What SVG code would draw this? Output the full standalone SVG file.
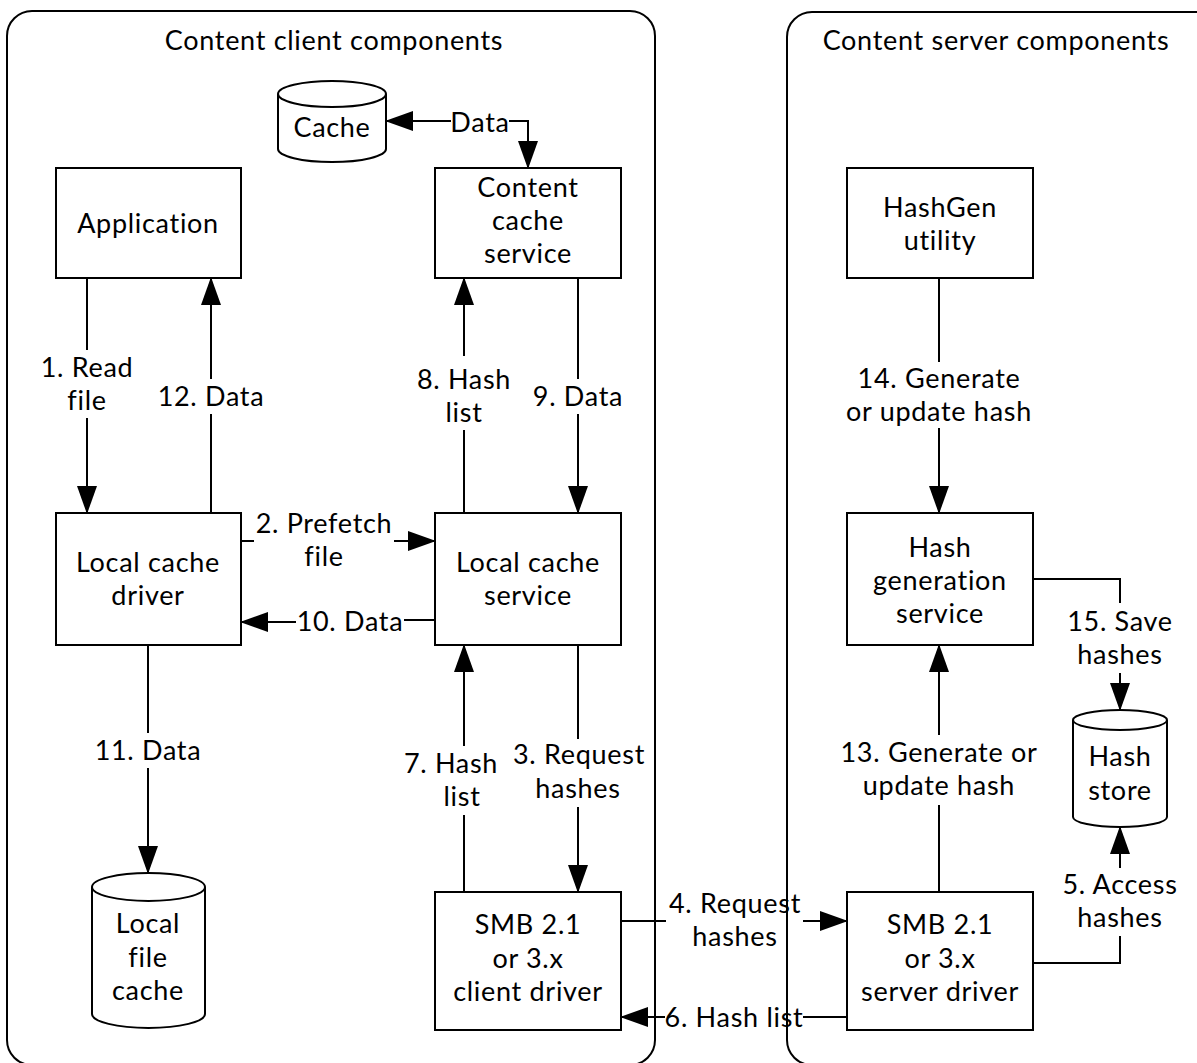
<svg xmlns="http://www.w3.org/2000/svg" width="1197" height="1063" viewBox="0 0 1197 1063">
<style>
  .t { font-family: Lato, "Open Sans", sans-serif; font-size: 27px; letter-spacing: 0.7px; font-variant-ligatures: none; text-anchor: middle; fill: #000; }
  .box { fill: #fff; stroke: #000; stroke-width: 2; }
  .cont { fill: none; stroke: #000; stroke-width: 2; }
  .ln { fill: none; stroke: #000; stroke-width: 2; }
  .arr { marker-end: url(#ah); }
</style>
<defs>
  <marker id="ah" markerUnits="userSpaceOnUse" markerWidth="28" markerHeight="20" refX="27" refY="10" orient="auto">
    <path d="M0,0 L28,10 L0,20 Z" fill="#000"/>
  </marker>
</defs>
<rect width="1197" height="1063" fill="#fff"/>

<g id="client-container">
  <rect class="cont" x="7" y="11" width="648" height="1054" rx="25" ry="25"/>
  <text class="t" x="334" y="50">Content client components</text>
</g>
<g id="server-container">
  <rect class="cont" x="787" y="12" width="450" height="1053" rx="25" ry="25"/>
  <text class="t" x="996" y="50">Content server components</text>
</g>

<g id="cache">
  <path class="box" d="M278,94 A54,13 0 0 1 386,94 V149 A54,13 0 0 1 278,149 Z"/>
  <path class="ln" d="M278,94 A54,13 0 0 0 386,94"/>
  <text class="t" x="332" y="137">Cache</text>
</g>
<g id="application">
  <rect class="box" x="56" y="168" width="185" height="110"/>
  <text class="t" x="148" y="233">Application</text>
</g>
<g id="content-cache-service">
  <rect class="box" x="435" y="168" width="186" height="110"/>
  <text class="t" x="528" y="197">Content<tspan x="528" dy="33">cache</tspan><tspan x="528" dy="33">service</tspan></text>
</g>
<g id="local-cache-driver">
  <rect class="box" x="56" y="513" width="185" height="132"/>
  <text class="t" x="148" y="572">Local cache<tspan x="148" dy="33">driver</tspan></text>
</g>
<g id="local-cache-service">
  <rect class="box" x="435" y="513" width="186" height="132"/>
  <text class="t" x="528" y="572">Local cache<tspan x="528" dy="33">service</tspan></text>
</g>
<g id="local-file-cache">
  <path class="box" d="M92,887 A56.5,14 0 0 1 205,887 V1014 A56.5,14 0 0 1 92,1014 Z"/>
  <path class="ln" d="M92,887 A56.5,14 0 0 0 205,887"/>
  <text class="t" x="148" y="933">Local<tspan x="148" dy="34">file</tspan><tspan x="148" dy="33">cache</tspan></text>
</g>
<g id="smb-client-driver">
  <rect class="box" x="435" y="892" width="186" height="138"/>
  <text class="t" x="528" y="934">SMB 2.1<tspan x="528" dy="34">or 3.x</tspan><tspan x="528" dy="33">client driver</tspan></text>
</g>
<g id="hashgen-utility">
  <rect class="box" x="847" y="168" width="186" height="110"/>
  <text class="t" x="940" y="217">HashGen<tspan x="940" dy="33">utility</tspan></text>
</g>
<g id="hash-generation-service">
  <rect class="box" x="847" y="513" width="186" height="132"/>
  <text class="t" x="940" y="557">Hash<tspan x="940" dy="33">generation</tspan><tspan x="940" dy="33">service</tspan></text>
</g>
<g id="hash-store">
  <path class="box" d="M1073,720 A47,10 0 0 1 1167,720 V817 A47,10 0 0 1 1073,817 Z"/>
  <path class="ln" d="M1073,720 A47,10 0 0 0 1167,720"/>
  <text class="t" x="1120" y="766">Hash<tspan x="1120" dy="34">store</tspan></text>
</g>
<g id="smb-server-driver">
  <rect class="box" x="847" y="892" width="186" height="138"/>
  <text class="t" x="940" y="934">SMB 2.1<tspan x="940" dy="34">or 3.x</tspan><tspan x="940" dy="33">server driver</tspan></text>
</g>

<g id="connectors">
  <path class="ln arr" d="M451,121 H386"/>
  <path class="ln arr" d="M509,121 H528 V168"/>
  <text class="t" x="480" y="132">Data</text>

  <path class="ln" d="M87,278 V350"/>
  <path class="ln arr" d="M87,418 V513"/>
  <text class="t" x="87" y="377">1. Read<tspan x="87" dy="33">file</tspan></text>

  <path class="ln" d="M211,513 V414"/>
  <path class="ln arr" d="M211,379 V278"/>
  <text class="t" x="211" y="406">12. Data</text>

  <path class="ln" d="M464,513 V430"/>
  <path class="ln arr" d="M464,356 V278"/>
  <text class="t" x="464" y="389">8. Hash<tspan x="464" dy="33">list</tspan></text>

  <path class="ln" d="M578,278 V379"/>
  <path class="ln arr" d="M578,414 V513"/>
  <text class="t" x="578" y="406">9. Data</text>

  <path class="ln" d="M241,541 H254"/>
  <path class="ln arr" d="M394,541 H435"/>
  <text class="t" x="324" y="533">2. Prefetch<tspan x="324" dy="33">file</tspan></text>

  <path class="ln" d="M435,620 H404"/>
  <path class="ln arr" d="M296,622 H241"/>
  <text class="t" x="350" y="631">10. Data</text>

  <path class="ln" d="M148,645 V733"/>
  <path class="ln arr" d="M148,768 V873"/>
  <text class="t" x="148" y="760">11. Data</text>

  <path class="ln" d="M464,892 V815"/>
  <path class="ln arr" d="M464,746 V645"/>
  <text class="t" x="451" y="773">7. Hash<tspan x="462" dy="33">list</tspan></text>

  <path class="ln" d="M578,645 V739"/>
  <path class="ln arr" d="M578,807 V892"/>
  <text class="t" x="579" y="764">3. Request<tspan x="578" dy="34">hashes</tspan></text>

  <path class="ln" d="M621,921 H666"/>
  <path class="ln arr" d="M803,921 H847"/>
  <text class="t" x="735" y="913">4. Request<tspan x="735" dy="33">hashes</tspan></text>

  <path class="ln" d="M847,1017 H803"/>
  <path class="ln arr" d="M665,1017 H621"/>
  <text class="t" x="734" y="1027">6. Hash list</text>

  <path class="ln" d="M939,278 V362"/>
  <path class="ln arr" d="M939,428 V513"/>
  <text class="t" x="939" y="388">14. Generate<tspan x="939" dy="33">or update hash</tspan></text>

  <path class="ln" d="M939,892 V805"/>
  <path class="ln arr" d="M939,735 V645"/>
  <text class="t" x="939" y="762">13. Generate or<tspan x="939" dy="33">update hash</tspan></text>

  <path class="ln" d="M1033,579 H1120 V603"/>
  <path class="ln arr" d="M1120,673 V710"/>
  <text class="t" x="1120" y="631">15. Save<tspan x="1120" dy="33">hashes</tspan></text>

  <path class="ln" d="M1033,963 H1120 V936"/>
  <path class="ln arr" d="M1120,868 V827"/>
  <text class="t" x="1120" y="894">5. Access<tspan x="1120" dy="33">hashes</tspan></text>
</g>
</svg>
